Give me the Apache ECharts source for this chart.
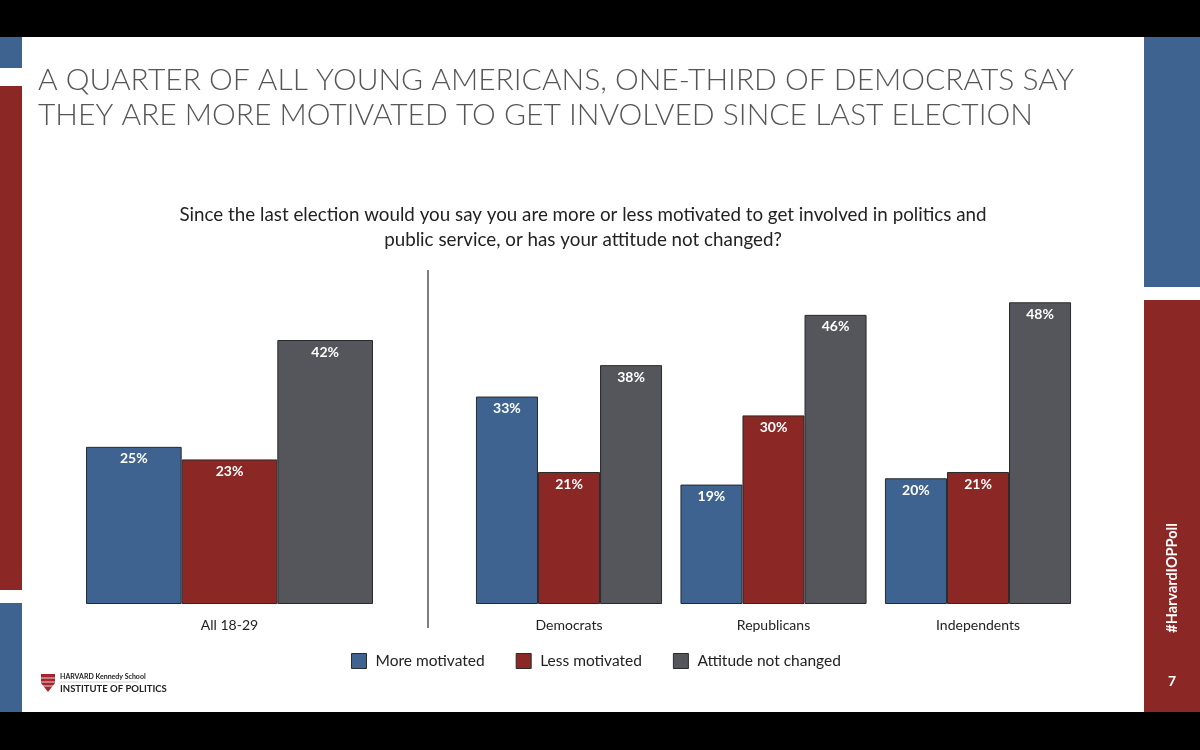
<!DOCTYPE html>
<html>
<head>
<meta charset="utf-8">
<script src="https://cdn.jsdelivr.net/npm/echarts@6/dist/echarts.min.js"></script>
<style>
html,body{margin:0;padding:0;background:#000;}
#c{width:1200px;height:750px;}
</style>
</head>
<body>
<div id="c"></div>
<script>
const groupAll = ['All 18-29'];
const groupParty = ['Democrats', 'Republicans', 'Independents'];
const seriesNames = ['More motivated', 'Less motivated', 'Attitude not changed'];
const moreMotivated = [25, 33, 19, 20];
const lessMotivated = [23, 21, 30, 21];
const notChanged = [42, 38, 46, 48];
const titleLines = ['A QUARTER OF ALL YOUNG AMERICANS, ONE-THIRD OF DEMOCRATS SAY', 'THEY ARE MORE MOTIVATED TO GET INVOLVED SINCE LAST ELECTION'];
const questionLines = ['Since the last election would you say you are more or less motivated to get involved in politics and', 'public service, or has your attitude not changed?'];

const colors = ['#3e6391', '#8b2825', '#54565c'];
const allValues = [moreMotivated, lessMotivated, notChanged];
const font = 'Lato, "Open Sans", sans-serif';

const chart = echarts.init(document.getElementById('c'));
const series = [];
seriesNames.forEach((name, i) => {
  [0, 1].forEach(g => {
    series.push({
      name: name,
      type: 'bar',
      xAxisIndex: g,
      yAxisIndex: g,
      data: g === 0 ? allValues[i].slice(0, 1) : allValues[i].slice(1),
      barGap: '0%',
      barCategoryGap: g === 0 ? '0%' : '9%',
      itemStyle: { color: colors[i], borderColor: '#2a2a2a', borderWidth: 1 },
      label: {
        show: true, position: 'insideTop', distance: 5,
        formatter: '{c}%', color: '#fff', fontWeight: 'bold', fontSize: 14, fontFamily: font
      },
      emphasis: { disabled: true },
      animation: false
    });
  });
});

const yBase = { type: 'value', min: 0, max: 50, show: false };
const xBase = {
  type: 'category',
  axisLine: { show: false }, axisTick: { show: false },
  axisLabel: { color: '#222', fontSize: 14, fontFamily: font, margin: 14 }
};

chart.setOption({
  backgroundColor: '#000',
  animation: false,
  grid: [
    { left: 86, width: 287, top: 289.7, height: 314.3 },
    { left: 466.75, width: 613.5, top: 289.7, height: 314.3 }
  ],
  xAxis: [
    Object.assign({}, xBase, { gridIndex: 0, data: groupAll }),
    Object.assign({}, xBase, { gridIndex: 1, data: groupParty })
  ],
  yAxis: [
    Object.assign({}, yBase, { gridIndex: 0 }),
    Object.assign({}, yBase, { gridIndex: 1 })
  ],
  legend: {
    data: seriesNames,
    left: 346, top: 648,
    icon: 'rect', itemWidth: 15, itemHeight: 15, itemGap: 31,
    itemStyle: { borderColor: '#2a2a2a', borderWidth: 1 },
    textStyle: { color: '#222', fontSize: 15.5, fontFamily: font, padding: [0, 0, 0, 4] },
    selectedMode: false
  },
  graphic: [
    { type: 'rect', z: -10, shape: { x: 0, y: 37, width: 1200, height: 675 }, style: { fill: '#fff' } },
    { type: 'rect', shape: { x: 0, y: 37, width: 22, height: 31 }, style: { fill: '#3e6391' } },
    { type: 'rect', shape: { x: 0, y: 86, width: 22, height: 504 }, style: { fill: '#8b2825' } },
    { type: 'rect', shape: { x: 0, y: 603, width: 22, height: 109 }, style: { fill: '#3e6391' } },
    { type: 'rect', shape: { x: 1144, y: 37, width: 56, height: 250 }, style: { fill: '#3e6391' } },
    { type: 'rect', shape: { x: 1144, y: 300, width: 56, height: 412 }, style: { fill: '#8b2825' } },
    { type: 'text', left: 38, top: 63, style: { text: titleLines.join('\n'), fill: '#555', font: '300 30px ' + font, lineHeight: 35 } },
    { type: 'text', style: { x: 583, y: 202, text: questionLines.join('\n'), fill: '#222', font: '18.8px ' + font, lineHeight: 25, textAlign: 'center' } },
    { type: 'line', shape: { x1: 428, y1: 270, x2: 428, y2: 628 }, style: { stroke: '#555', lineWidth: 1.5 } },
    { type: 'text', rotation: Math.PI / 2, x: 1172, y: 578, style: { x: 0, y: 0, text: '#HarvardIOPPoll', fill: '#fff', font: 'bold 14.5px ' + font, textAlign: 'center', textVerticalAlign: 'middle' } },
    { type: 'text', style: { x: 1172, y: 681, text: '7', fill: '#fff', font: 'bold 14px ' + font, textAlign: 'center', textVerticalAlign: 'middle' } },
    { type: 'polygon', shape: { points: [[41, 674], [55, 674], [55, 683], [48, 692], [41, 683]] }, style: { fill: '#a5262a' } },
    { type: 'line', shape: { x1: 41, y1: 678, x2: 55, y2: 678 }, style: { stroke: '#fff', lineWidth: 0.8 } },
    { type: 'line', shape: { x1: 41, y1: 682, x2: 55, y2: 682 }, style: { stroke: '#fff', lineWidth: 0.8 } },
    { type: 'line', shape: { x1: 42, y1: 686, x2: 54, y2: 686 }, style: { stroke: '#fff', lineWidth: 0.8 } },
    { type: 'text', style: { x: 60, y: 677, text: 'HARVARD Kennedy School', fill: '#222', font: 'bold 7px ' + font, textVerticalAlign: 'middle' } },
    { type: 'line', shape: { x1: 60, y1: 682, x2: 138, y2: 682 }, style: { stroke: '#aaa', lineWidth: 0.5 } },
    { type: 'text', style: { x: 60, y: 689, text: 'INSTITUTE OF POLITICS', fill: '#222', font: 'bold 9.5px ' + font, textVerticalAlign: 'middle' } }
  ],
  series: series
});
</script>
</body>
</html>
